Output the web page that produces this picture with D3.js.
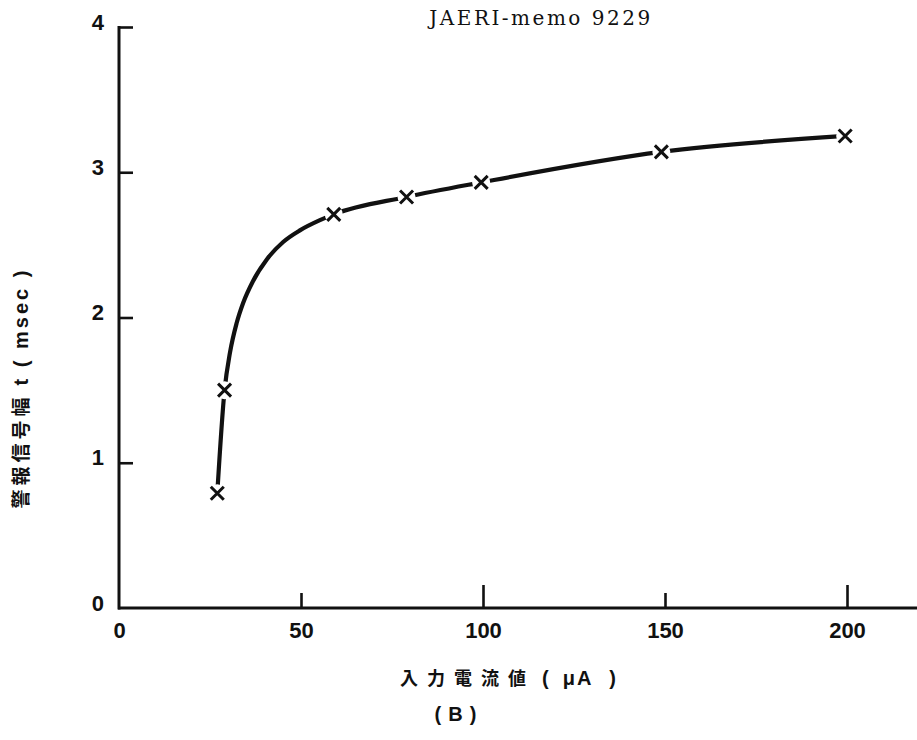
<!DOCTYPE html>
<html>
<head>
<meta charset="utf-8">
<script src="https://cdn.jsdelivr.net/npm/d3@7"></script>
<style>
  html, body { margin: 0; padding: 0; background: #fff; }
  svg { display: block; }
  .tick text { font-family: "Liberation Sans", Arial, sans-serif; font-weight: bold; font-size: 22px; fill: #111; }
</style>
</head>
<body>
<svg id="chart" width="917" height="740"></svg>
<script>
// Measured points: input current (µA) vs alarm signal width t (msec)
const currentUA = [27, 29, 59, 79, 99.5, 149, 199.5];
const widthMs   = [0.79, 1.50, 2.71, 2.83, 2.93, 3.14, 3.25];

const curveX = [27, 29, 30.5, 32.3, 34.1, 36.8, 40.6, 45.1, 49.7, 55.2, 59, 79, 99.5, 149, 199.5];
const curveY = [0.79, 1.50, 1.76, 1.96, 2.10, 2.25, 2.40, 2.52, 2.60, 2.67, 2.71, 2.83, 2.93, 3.14, 3.25];

const xTicks = [0, 50, 100, 150, 200];
const xMajor = [100, 200];
const yTicks = [0, 1, 2, 3, 4];

const titleText = "JAERI-memo 9229";
const xTitleKanji = "入力電流値";
const xTitleUnit = "μA";
const yTitleKanji = "警報信号幅";
const yTitleUnit = "t ( msec )";
const panelLabel = "(B)";

const svg = d3.select("#chart");

const x = d3.scaleLinear().domain([0, 200]).range([119, 847]);
const y = d3.scaleLinear().domain([0, 4]).range([608, 27]);

// X axis: ticks point up into the plot, long ticks at 100 and 200
const gx = svg.append("g")
  .attr("transform", `translate(0,${y(0)})`)
  .call(d3.axisBottom(x).tickValues(xTicks).tickSize(-15).tickSizeOuter(0).tickPadding(10).tickFormat(d3.format("d")));
gx.select(".domain").remove();
gx.selectAll(".tick line")
  .attr("stroke", "#111").attr("stroke-width", 2.6)
  .attr("y2", d => xMajor.includes(d) ? -23 : -15)
  .attr("display", d => d === 0 ? "none" : null);
gx.selectAll(".tick text").attr("dy", "0.93em");
gx.append("line")
  .attr("x1", x(0) - 1).attr("x2", 917)
  .attr("y1", 0).attr("y2", 0)
  .attr("stroke", "#111").attr("stroke-width", 3);

// Y axis: ticks point right into the plot
const gy = svg.append("g")
  .attr("transform", `translate(${x(0)},0)`)
  .call(d3.axisLeft(y).tickValues(yTicks).tickSize(-14).tickSizeOuter(0).tickPadding(15).tickFormat(d3.format("d")));
gy.select(".domain").remove();
gy.selectAll(".tick line")
  .attr("stroke", "#111").attr("stroke-width", 2.6)
  .attr("display", d => d === 0 ? "none" : null);
gy.selectAll(".tick text").attr("dy", "0.1em");
gy.append("line")
  .attr("x1", 0).attr("x2", 0)
  .attr("y1", y(4) - 1).attr("y2", y(0) + 1.5)
  .attr("stroke", "#111").attr("stroke-width", 3);

// Fitted curve
const trace = curveX.map((d, i) => [d, curveY[i]]);
svg.append("path")
  .datum(trace)
  .attr("fill", "none")
  .attr("stroke", "#111")
  .attr("stroke-width", 4.2)
  .attr("stroke-linecap", "round")
  .attr("d", d3.line().x(d => x(d[0])).y(d => y(d[1])).curve(d3.curveMonotoneX));

// Markers: white gap around each cross, then the cross
const pts = currentUA.map((d, i) => [d, widthMs[i]]);
const mk = svg.append("g").selectAll("g").data(pts).join("g")
  .attr("transform", d => `translate(${x(d[0])},${y(d[1])})`);
mk.append("circle").attr("r", 9).attr("fill", "#fff");
mk.append("path")
  .attr("d", d3.symbol().type(d3.symbolTimes).size(112))
  .attr("fill", "none").attr("stroke", "#111").attr("stroke-width", 3);

// Header
svg.append("text")
  .attr("x", 541).attr("y", 25)
  .attr("text-anchor", "middle")
  .style("font-family", "'DejaVu Serif', 'Liberation Serif', serif")
  .style("font-size", "20px")
  .style("letter-spacing", "2.5px")
  .attr("fill", "#111")
  .text(titleText);

// X axis title: spaced kanji followed by the unit in parentheses
const xt = svg.append("text")
  .attr("x", 400).attr("y", 685)
  .style("font-weight", "bold")
  .attr("fill", "#111");
xt.append("tspan")
  .style("font-family", "'Noto Sans CJK JP', sans-serif")
  .style("font-size", "18px")
  .style("letter-spacing", "9px")
  .text(xTitleKanji);
xt.append("tspan")
  .attr("dx", 7)
  .style("font-family", "'Liberation Sans', Arial, sans-serif")
  .style("font-size", "20px")
  .text("(");
xt.append("tspan")
  .attr("dx", 14)
  .style("font-family", "'Liberation Sans', Arial, sans-serif")
  .style("font-size", "20px")
  .style("letter-spacing", "2px")
  .text(xTitleUnit);
xt.append("tspan")
  .attr("dx", 16)
  .style("font-family", "'Liberation Sans', Arial, sans-serif")
  .style("font-size", "20px")
  .text(")");

svg.append("text")
  .attr("x", 459).attr("y", 721)
  .attr("text-anchor", "middle")
  .style("font-family", "'Liberation Sans', Arial, sans-serif")
  .style("font-weight", "bold")
  .style("font-size", "20px")
  .style("letter-spacing", "7px")
  .attr("fill", "#111")
  .text(panelLabel);

// Y axis title, rotated
const yt = svg.append("text")
  .attr("transform", "translate(28,388) rotate(-90)")
  .attr("text-anchor", "middle")
  .style("font-weight", "bold")
  .attr("fill", "#111");
yt.append("tspan")
  .style("font-family", "'Noto Sans CJK JP', sans-serif")
  .style("font-size", "19px")
  .style("letter-spacing", "4px")
  .text(yTitleKanji);
yt.append("tspan")
  .attr("dx", 8)
  .style("font-family", "'Liberation Sans', Arial, sans-serif")
  .style("font-size", "20px")
  .style("letter-spacing", "3px")
  .style("white-space", "pre")
  .text(yTitleUnit);
</script>
</body>
</html>
